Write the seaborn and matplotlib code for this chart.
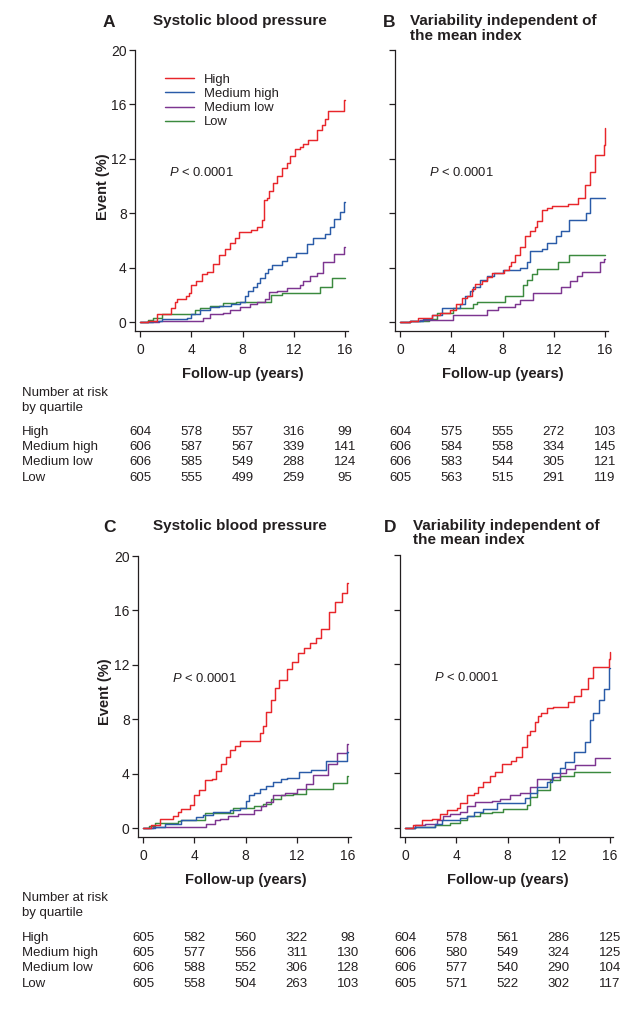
import matplotlib
matplotlib.use("Agg")
import matplotlib.pyplot as plt
import matplotlib.transforms as mtransforms
from matplotlib.lines import Line2D
import pandas as pd
import seaborn as sns

# ---------------- data ----------------
GROUPS = ["High", "Medium high", "Medium low", "Low"]
COLORS = ["#e8262b", "#2a5ba8", "#7d3590", "#3b8a3e"]
X_TICKS = [0, 4, 8, 12, 16]
Y_TICKS = [0, 4, 8, 12, 16, 20]

# Panel A: systolic blood pressure (time in years, cumulative event %)
A_HIGH = [(0, 0), (0.65, 0.1), (1.3, 0.6), (2.4, 1.0), (2.7, 1.5), (2.9, 1.7), (3.6, 1.9), (3.8, 2.1),
          (4.0, 2.7), (4.4, 3.0), (4.8, 3.5), (5.2, 3.7), (5.7, 4.3), (6.2, 4.9), (6.6, 5.4), (7.0, 5.8),
          (7.4, 6.2), (7.7, 6.6), (8.7, 6.8), (9.1, 7.0), (9.5, 7.5), (9.7, 9.0), (9.9, 9.1), (10.1, 9.6),
          (10.4, 10.2), (10.7, 10.7), (11.1, 11.3), (11.45, 11.7), (11.7, 12.2), (12.1, 12.7), (12.5, 12.9),
          (12.75, 13.1), (13.1, 13.4), (13.8, 14.1), (14.2, 14.5), (14.4, 14.9), (14.7, 15.5), (15.9, 16.3),
          (16.0, 16.3)]
A_MEDHIGH = [(0, 0), (1.0, 0.1), (1.7, 0.2), (3.7, 0.3), (4.0, 0.6), (4.7, 0.9), (5.5, 1.1), (6.2, 1.2),
             (7.1, 1.3), (7.8, 1.5), (8.2, 1.9), (8.45, 2.3), (8.8, 2.6), (9.1, 2.9), (9.4, 3.2), (9.75, 3.6),
             (10.0, 3.9), (10.3, 4.2), (11.05, 4.5), (11.45, 4.8), (12.2, 5.1), (13.0, 5.7), (13.5, 6.2),
             (14.4, 6.5), (14.8, 7.0), (15.1, 7.6), (15.6, 8.1), (15.95, 8.8), (16.0, 8.8)]
A_MEDLOW = [(0, 0), (1.5, 0.1), (4.9, 0.3), (5.5, 0.6), (6.5, 0.7), (7.0, 0.9), (7.8, 1.1), (8.6, 1.3),
            (9.1, 1.5), (9.75, 1.7), (10.1, 2.2), (10.7, 2.3), (11.45, 2.5), (12.5, 2.7), (12.75, 3.0),
            (13.3, 3.4), (13.8, 3.6), (14.3, 4.4), (15.1, 5.0), (15.95, 5.5), (16.0, 5.5)]
A_LOW = [(0, 0), (0.65, 0.15), (1.0, 0.3), (1.7, 0.6), (4.3, 0.9), (4.7, 1.0), (5.5, 1.2), (6.5, 1.4),
         (7.5, 1.5), (10.2, 2.0), (11.05, 2.1), (14.05, 2.6), (15.0, 3.2), (16.0, 3.2)]

# Panel B: variability independent of the mean index
B_HIGH = [(0, 0), (0.8, 0.1), (1.4, 0.3), (2.5, 0.5), (3.1, 0.7), (3.9, 0.9), (4.4, 1.3), (4.8, 1.8),
          (5.2, 1.9), (5.6, 2.4), (5.85, 2.8), (6.4, 3.0), (6.75, 3.3), (7.15, 3.6), (8.1, 3.8), (8.5, 4.1),
          (8.7, 4.4), (9.0, 4.9), (9.4, 5.5), (9.75, 6.3), (10.15, 6.7), (10.5, 7.0), (10.7, 7.4),
          (11.05, 8.2), (11.45, 8.4), (11.85, 8.5), (13.1, 8.7), (13.9, 9.1), (14.4, 10.1), (14.8, 11.0),
          (15.2, 12.3), (15.9, 13.0), (15.97, 14.3), (16.0, 14.3)]
B_MEDHIGH = [(0, 0), (0.8, 0.1), (1.8, 0.25), (2.5, 0.5), (3.25, 1.0), (4.7, 1.3), (5.1, 1.9), (5.5, 2.3),
             (5.7, 2.6), (6.25, 3.1), (6.75, 3.4), (7.3, 3.6), (8.05, 3.8), (9.35, 4.0), (9.9, 4.4),
             (10.15, 5.2), (11.05, 5.4), (11.45, 5.8), (12.2, 6.3), (12.6, 6.7), (13.15, 7.5), (14.55, 8.0),
             (14.8, 9.1), (16.0, 9.1)]
B_MEDLOW = [(0, 0), (0.8, 0.05), (1.55, 0.15), (4.15, 0.5), (6.75, 0.9), (7.65, 1.1), (9.0, 1.3),
            (9.4, 1.6), (10.4, 2.1), (12.6, 2.6), (13.3, 3.0), (13.8, 3.4), (14.2, 3.7), (15.6, 4.4),
            (15.95, 4.6), (16.0, 4.6)]
B_LOW = [(0, 0), (0.8, 0.1), (2.3, 0.2), (2.9, 0.7), (4.15, 1.0), (5.7, 1.3), (6.0, 1.5), (8.2, 1.9),
         (9.6, 2.7), (9.9, 3.1), (10.3, 3.5), (10.7, 3.9), (12.35, 4.4), (13.15, 4.95), (16.0, 4.95)]

# Panel C: systolic blood pressure
C_HIGH = [(0, 0), (0.65, 0.2), (1.3, 0.7), (2.35, 0.9), (2.7, 1.2), (3.0, 1.4), (3.65, 1.7), (4.0, 2.4),
          (4.4, 2.8), (4.8, 3.5), (5.35, 3.6), (5.7, 4.2), (6.1, 4.7), (6.5, 5.2), (6.75, 5.7), (7.15, 6.0),
          (7.55, 6.4), (9.1, 7.0), (9.35, 7.5), (9.6, 8.5), (10.0, 9.4), (10.3, 10.3), (10.65, 10.9),
          (11.2, 11.7), (11.6, 12.2), (12.1, 12.9), (12.6, 13.2), (13.0, 13.6), (13.5, 14.0), (13.9, 14.6),
          (14.55, 15.9), (14.95, 16.6), (15.5, 17.3), (15.9, 18.0), (16.0, 18.0)]
C_MEDHIGH = [(0, 0), (0.9, 0.05), (1.7, 0.3), (3.0, 0.6), (4.15, 0.8), (4.7, 0.95), (5.45, 1.2),
             (6.75, 1.3), (7.55, 1.5), (8.05, 2.0), (8.3, 2.4), (8.7, 2.6), (9.1, 2.9), (9.6, 3.1),
             (10.15, 3.4), (10.8, 3.6), (11.2, 3.7), (12.2, 4.1), (13.1, 4.3), (14.3, 4.9), (15.9, 5.6),
             (16.0, 5.6)]
C_MEDLOW = [(0, 0), (0.8, 0.1), (4.95, 0.3), (5.6, 0.6), (6.0, 0.7), (6.65, 0.9), (7.4, 1.0), (8.7, 1.3),
            (9.2, 1.6), (9.6, 1.9), (10.15, 2.4), (11.05, 2.6), (12.0, 2.9), (12.75, 3.2), (13.3, 3.9),
            (14.45, 4.7), (15.1, 5.5), (15.9, 6.2), (16.0, 6.2)]
C_LOW = [(0, 0), (0.5, 0.15), (0.9, 0.4), (2.7, 0.5), (3.0, 0.6), (4.8, 1.1), (7.0, 1.5), (8.7, 1.6),
         (9.4, 1.8), (10.0, 2.1), (10.8, 2.4), (11.7, 2.5), (12.75, 2.9), (14.8, 3.3), (15.9, 3.8),
         (16.0, 3.8)]

# Panel D: variability independent of the mean index
D_HIGH = [(0, 0), (0.65, 0.2), (1.3, 0.6), (2.1, 0.65), (2.75, 1.0), (3.25, 1.3), (4.05, 1.5), (4.3, 1.8),
          (4.8, 2.4), (5.35, 2.6), (5.7, 3.0), (6.1, 3.4), (6.6, 3.8), (7.0, 4.1), (7.55, 4.7), (8.3, 4.9),
          (8.7, 5.2), (9.1, 5.9), (9.5, 6.8), (9.75, 7.1), (10.15, 7.8), (10.4, 8.2), (10.65, 8.4),
          (11.05, 8.8), (11.55, 8.9), (12.75, 9.2), (13.15, 9.7), (13.7, 10.2), (14.3, 11.0), (14.7, 11.8),
          (15.9, 12.4), (15.97, 12.9), (16.0, 12.9)]
D_MEDHIGH = [(0, 0), (0.8, 0.1), (2.35, 0.3), (2.85, 0.6), (4.3, 0.7), (4.8, 0.9), (5.35, 1.2), (6.1, 1.4),
             (7.15, 1.8), (9.35, 2.2), (9.75, 2.6), (10.3, 3.0), (11.05, 3.4), (11.45, 4.0), (12.1, 4.4),
             (12.5, 4.8), (13.15, 5.6), (14.05, 6.3), (14.45, 7.9), (14.7, 8.4), (15.1, 9.4), (15.5, 10.2),
             (15.9, 11.7), (16.0, 11.7)]
D_MEDLOW = [(0, 0), (0.8, 0.2), (1.55, 0.3), (2.5, 0.6), (3.0, 0.9), (3.5, 1.0), (4.3, 1.2), (4.8, 1.6),
            (5.45, 1.9), (6.75, 2.0), (7.4, 2.1), (8.2, 2.4), (8.95, 2.6), (9.75, 3.0), (10.3, 3.6),
            (11.55, 3.7), (12.1, 4.0), (12.6, 4.35), (13.3, 4.65), (14.85, 5.15), (16.0, 5.15)]
D_LOW = [(0, 0), (0.8, 0.05), (2.35, 0.2), (3.5, 0.4), (4.3, 0.6), (4.8, 0.9), (5.85, 1.1), (6.75, 1.2),
         (7.65, 1.4), (9.5, 1.7), (9.75, 2.3), (10.3, 2.8), (11.3, 3.5), (12.1, 3.8), (13.15, 4.1),
         (16.0, 4.1)]

# Number at risk tables (columns at years 0, 4, 8, 12, 16)
A_RISK = {"High": [604, 578, 557, 316, 99], "Medium high": [606, 587, 567, 339, 141],
          "Medium low": [606, 585, 549, 288, 124], "Low": [605, 555, 499, 259, 95]}
B_RISK = {"High": [604, 575, 555, 272, 103], "Medium high": [606, 584, 558, 334, 145],
          "Medium low": [606, 583, 544, 305, 121], "Low": [605, 563, 515, 291, 119]}
C_RISK = {"High": [605, 582, 560, 322, 98], "Medium high": [605, 577, 556, 311, 130],
          "Medium low": [606, 588, 552, 306, 128], "Low": [605, 558, 504, 263, 103]}
D_RISK = {"High": [604, 578, 561, 286, 125], "Medium high": [606, 580, 549, 324, 125],
          "Medium low": [606, 577, 540, 290, 104], "Low": [605, 571, 522, 302, 117]}

TITLE_SBP = "Systolic blood pressure"
TITLE_VIM = ["Variability independent of", "the mean index"]

# ---------------- style ----------------
sns.set_style("ticks")
plt.rcParams["font.family"] = ["Liberation Sans", "DejaVu Sans"]
plt.rcParams["mathtext.fontset"] = "custom"
plt.rcParams["mathtext.it"] = "Liberation Sans:italic"
plt.rcParams["mathtext.rm"] = "Liberation Sans"
INK = "#231f20"

W, H = 637, 1031
fig = plt.figure(figsize=(W / 100, H / 100), dpi=100)
PALETTE = dict(zip(GROUPS, COLORS))


def rect(l, t, r, b):
    return [l / W, 1 - b / H, (r - l) / W, (b - t) / H]


def fy(py):
    return 1 - py / H


def fx(px):
    return px / W


def panel(box, series, show_ylabels):
    ax = fig.add_axes(rect(*box))
    rows = []
    for g, s in zip(GROUPS, series):
        for t, v in s:
            rows.append({"t": t, "v": v, "group": g})
    df = pd.DataFrame(rows)
    sns.lineplot(data=df, x="t", y="v", hue="group", hue_order=GROUPS[::-1], palette=PALETTE,
                 estimator=None, drawstyle="steps-post", linewidth=1.05, legend=False, ax=ax)
    ax.set_xlim(-0.39, 16.23)
    ax.set_ylim(-0.66, 20)
    ax.set_xticks(X_TICKS)
    ax.set_yticks(Y_TICKS)
    if not show_ylabels:
        ax.set_yticklabels([])
    ax.set_xlabel("")
    ax.set_ylabel("")
    sns.despine(ax=ax)
    for sp in ("left", "bottom"):
        ax.spines[sp].set_color(INK)
        ax.spines[sp].set_linewidth(0.9)
    ax.tick_params(axis="both", direction="out", length=4, width=0.9, color=INK,
                   labelsize=10, labelcolor=INK)
    ax.tick_params(axis="x", pad=5)
    ax.tick_params(axis="y", pad=2)
    ax.text(2.3, 11.0, r"$P$ < 0.0001", fontsize=9.4, color=INK, va="center", ha="left")
    return ax


def risk_table(ax, table, row_py):
    tr = mtransforms.blended_transform_factory(ax.transData, fig.transFigure)
    for py, g in zip(row_py, GROUPS):
        for x, n in zip(X_TICKS, table[g]):
            fig.text(x, fy(py), str(n), transform=tr, ha="center", va="center",
                     fontsize=9.5, color=INK)


def xlabel(ax, py):
    tr = mtransforms.blended_transform_factory(ax.transData, fig.transFigure)
    fig.text(8, fy(py), "Follow-up (years)", transform=tr, ha="center", va="center",
             fontsize=10.5, fontweight="bold", color=INK)


axA = panel((135, 50, 348, 331), [A_HIGH, A_MEDHIGH, A_MEDLOW, A_LOW], True)
axB = panel((395, 50, 608, 331), [B_HIGH, B_MEDHIGH, B_MEDLOW, B_LOW], False)
axC = panel((138, 556, 351, 837), [C_HIGH, C_MEDHIGH, C_MEDLOW, C_LOW], True)
axD = panel((400, 555, 613, 837), [D_HIGH, D_MEDHIGH, D_MEDLOW, D_LOW], False)

# legend in panel A
handles = [Line2D([0], [0], color=PALETTE[g], lw=1.05) for g in GROUPS]
fig.legend(handles, GROUPS, loc="upper left", bbox_to_anchor=(fx(165), fy(73.5)),
           frameon=False, fontsize=9.4, handlelength=2.2, handletextpad=0.75,
           labelspacing=0.16, borderpad=0, borderaxespad=0, labelcolor=INK)

# panel letters and titles
for letter, px, base in (("A", 103, 27), ("B", 383, 27), ("C", 103, 532), ("D", 384, 532)):
    fig.text(fx(px), fy(base), letter, fontsize=12.5, fontweight="bold", color=INK,
             ha="left", va="baseline")
fig.text(fx(153), fy(25.5), TITLE_SBP, fontsize=11, fontweight="bold", color=INK, va="baseline")
fig.text(fx(153), fy(530), TITLE_SBP, fontsize=11, fontweight="bold", color=INK, va="baseline")
for px, b1, b2 in ((410, 25.5, 39.5), (413, 530, 544)):
    fig.text(fx(px), fy(b1), TITLE_VIM[0], fontsize=11, fontweight="bold", color=INK, va="baseline")
    fig.text(fx(px), fy(b2), TITLE_VIM[1], fontsize=11, fontweight="bold", color=INK, va="baseline")

# y labels
fig.text(fx(103), fy(187), "Event (%)", rotation=90, fontsize=10.5, fontweight="bold",
         color=INK, ha="center", va="center")
fig.text(fx(105), fy(692), "Event (%)", rotation=90, fontsize=10.5, fontweight="bold",
         color=INK, ha="center", va="center")

# x labels
xlabel(axA, 374)
xlabel(axB, 374)
xlabel(axC, 880)
xlabel(axD, 880)

# number at risk
for head_py, rows_py in ((393, [432, 447, 462, 478]), (898, [938, 953, 968, 984])):
    fig.text(fx(22), fy(head_py), "Number at risk", fontsize=9.5, color=INK, va="center")
    fig.text(fx(22), fy(head_py + 15), "by quartile", fontsize=9.5, color=INK, va="center")
    for py, g in zip(rows_py, GROUPS):
        fig.text(fx(22), fy(py), g, fontsize=9.5, color=INK, va="center")

risk_table(axA, A_RISK, [432, 447, 462, 478])
risk_table(axB, B_RISK, [432, 447, 462, 478])
risk_table(axC, C_RISK, [938, 953, 968, 984])
risk_table(axD, D_RISK, [938, 953, 968, 984])

fig.savefig("out.png", dpi=100, facecolor="white")
